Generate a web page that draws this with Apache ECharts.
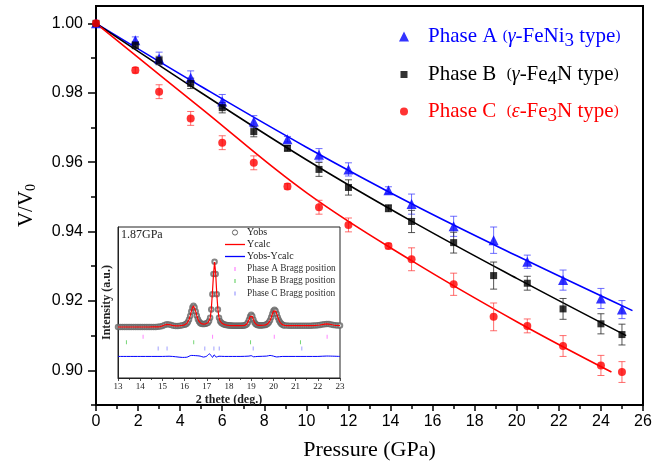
<!DOCTYPE html>
<html>
<head>
<meta charset="utf-8">
<script src="https://cdn.jsdelivr.net/npm/echarts@6/dist/echarts.min.js"></script>
<style>html,body{margin:0;padding:0;background:#fff}#c{width:665px;height:466px}</style>
</head>
<body>
<div id="c"></div>
<script>
// ---------- main chart data ----------
const pressure = [0, 1.87, 3.0, 4.5, 6.0, 7.5, 9.1, 10.6, 12.0, 13.9, 15.0, 17.0, 18.9, 20.5, 22.2, 24.0, 25.0];
const phaseA = [1.0, 0.9951, 0.9899, 0.9843, 0.9775, 0.9717, 0.9666, 0.9621, 0.9579, 0.9519, 0.9479, 0.9415, 0.9375, 0.9313, 0.9260, 0.9207, 0.9175];
const errA   = [0, 0.0010, 0.0018, 0.0020, 0.0020, 0.0017, 0.0008, 0.0018, 0.0019, 0.0010, 0.0029, 0.0029, 0.0038, 0.0019, 0.0029, 0.0029, 0.0026];
const phaseB = [1.0, 0.9937, 0.9893, 0.9827, 0.9757, 0.9688, 0.9640, 0.9579, 0.9527, 0.9467, 0.9429, 0.9368, 0.9273, 0.9251, 0.9177, 0.9134, 0.9103];
const errB   = [0, 0.0010, 0.0012, 0.0015, 0.0015, 0.0015, 0.0008, 0.0020, 0.0022, 0.0010, 0.0032, 0.0030, 0.0039, 0.0020, 0.0030, 0.0029, 0.0030];
const phaseC = [1.0, 0.9865, 0.9803, 0.9726, 0.9656, 0.9598, 0.9530, 0.9470, 0.9419, 0.9358, 0.9320, 0.9248, 0.9154, 0.9128, 0.9070, 0.9014, 0.8995];
const errC   = [0, 0.0008, 0.0020, 0.0020, 0.0020, 0.0020, 0.0008, 0.0020, 0.0020, 0.0008, 0.0033, 0.0032, 0.0040, 0.0020, 0.0030, 0.0029, 0.0030];

// fitted EOS curves
const fitPA = [0, 5, 10, 15, 20, 25.5];
const fitA  = [1.0, 0.9818, 0.9643, 0.9480, 0.9330, 0.9172];
const fitPB = [0, 5, 10, 15, 20, 25.2];
const fitB  = [1.0, 0.9800, 0.9607, 0.9430, 0.9265, 0.9100];
const fitPC = [0, 5, 10, 15, 20, 24.5];
const fitC  = [1.0, 0.9755, 0.9512, 0.9316, 0.9140, 0.8995];

const yMajorTicks = [0.90, 0.92, 0.94, 0.96, 0.98, 1.00];
const yMinorTicks = [0.89, 0.91, 0.93, 0.95, 0.97, 0.99];

// ---------- inset data (1.87 GPa pattern) ----------
const twoTheta = [13.0,13.1,13.2,13.3,13.4,13.5,13.6,13.7,13.8,13.9,14.0,14.1,14.2,14.3,14.4,14.5,14.6,14.7,14.8,14.9,15.0,15.1,15.2,15.3,15.4,15.5,15.6,15.7,15.8,15.9,
16.00,16.05,16.10,16.15,16.20,16.25,16.30,16.35,16.40,16.45,16.50,16.55,16.60,16.65,16.70,16.75,16.80,16.85,16.90,16.95,
17.00,17.05,17.10,17.15,17.20,17.25,17.30,17.35,17.40,17.45,17.50,17.55,17.60,17.65,17.70,17.75,17.80,17.85,17.90,17.95,
18.00,18.05,18.10,18.15,18.20,18.25,18.30,18.35,18.40,18.45,18.50,18.55,18.60,18.65,18.70,18.75,18.80,18.85,18.90,18.95,
19.00,19.05,19.10,19.15,19.20,19.25,19.30,19.35,19.40,19.45,19.50,19.55,19.60,19.65,19.70,19.75,19.80,19.85,19.90,19.95,
20.00,20.05,20.10,20.15,20.20,20.25,20.30,20.35,20.40,20.45,20.50,
20.6,20.7,20.8,20.9,21.0,21.1,21.2,21.3,21.4,21.5,21.6,21.7,21.8,21.9,22.0,22.1,22.2,22.3,22.4,22.5,22.6,22.7,22.8,22.9,23.0];
const yObs = [0,0,0.1,0,0,0.1,0,0,0.1,0,0,0.1,0,0,0.1,0.1,0.1,0.2,0.3,0.7,1.7,3.2,4.3,3.8,2.9,2.0,1.6,1.7,2.1,2.6,
3.3,4.1,5.4,7.8,11.5,16.9,23.7,29.8,32.5,29.9,23.9,17.3,12.0,8.4,6.3,5.1,4.6,4.5,4.6,4.9,
5.6,6.7,9.1,14.3,26.9,50.1,81.0,100,81.2,50.2,26.8,14.2,8.9,6.4,5.3,4.2,3.7,3.2,2.9,2.6,
2.5,2.3,2.2,2.1,2.0,2.0,1.9,2.0,1.9,2.0,2.0,2.1,2.1,2.2,2.5,3.1,4.4,6.9,11.1,16.2,
18.9,16.3,11.2,7.0,4.6,3.3,2.8,2.6,2.4,2.5,2.6,2.7,3.0,3.2,4.1,5.3,7.4,10.5,14.8,19.9,
24.4,26.4,24.4,19.8,14.6,10.3,7.2,5.0,3.7,2.8,2.5,
2.2,2.1,2.1,2.1,2.1,2.0,2.0,2.0,2.0,2.0,2.0,2.1,2.2,2.4,2.7,3.1,3.7,4.4,4.8,4.5,3.8,3.1,2.6,2.3,2.2];
const yCalc = [0,0,0,0,0,0,0,0,0,0,0,0,0,0,0,0.1,0.1,0.2,0.3,0.7,1.7,3.1,4.1,3.8,2.9,2.0,1.6,1.7,2.1,2.6,
3.3,4.1,5.4,7.8,11.5,16.9,23.5,29.2,32.3,29.3,23.9,17.3,12.0,8.4,6.3,5.1,4.6,4.5,4.6,4.9,
5.6,6.6,8.6,13.0,26.4,51.0,79.5,99.5,82.0,50.0,26.8,14.2,8.9,6.4,5.3,4.2,3.7,3.2,2.9,2.6,
2.5,2.3,2.2,2.1,2.0,2.0,2.0,2.0,2.0,2.0,2.0,2.1,2.1,2.2,2.5,3.1,4.4,6.9,11.1,16.0,
18.4,16.3,11.3,7.0,4.6,3.3,2.8,2.6,2.4,2.5,2.6,2.7,3.0,3.2,4.1,5.2,7.2,9.9,14.2,19.6,
24.2,26.3,24.4,20.2,14.8,10.3,7.2,5.0,3.7,2.8,2.5,
2.2,2.1,2.1,2.1,2.1,2.0,2.0,2.0,2.0,2.0,2.0,2.1,2.2,2.4,2.7,3.1,3.7,4.3,4.7,4.5,3.8,3.1,2.6,2.3,2.2];
const diffTheta = [13.0,14.0,15.0,15.3,15.6,15.9,16.1,16.3,16.5,16.7,16.85,17.0,17.12,17.2,17.26,17.33,17.42,17.55,17.8,18.5,18.9,19.0,19.1,19.3,19.7,19.85,20.0,20.15,20.4,21.0,22.0,22.4,23.0];
const diffVal   = [0,0,0,0.3,-0.5,-1.5,-1.2,1.5,1.2,0.5,-1.0,0.5,4.0,1.0,-1.5,2.5,-1.0,0.3,0,0,0.5,1.2,-0.5,0,0.5,1.5,0.5,-0.8,0,0,0,0.6,0];
const braggA = [14.13, 17.26, 20.04, 22.42];
const braggB = [13.38, 16.41, 18.97, 21.22];
const braggC = [14.81, 15.21, 16.91, 17.32, 17.56, 19.09, 21.28];

// ---------- layout constants ----------
const DIFF_OFFSET = -45;
const TICK_Y = {A: -15, B: -23.5, C: -33};

const serif = 'Liberation Serif';
const sans = 'Liberation Sans';

function pairs(xs, ys) { return xs.map((x, i) => [x, ys[i]]); }
function errData(vals, errs) { return pressure.map((p, i) => [p, vals[i] - errs[i], vals[i] + errs[i]]); }
function errRender(color) {
  return function (params, api) {
    const x = api.value(0), lo = api.value(1), hi = api.value(2);
    if (hi - lo < 1e-9) return null;
    const a = api.coord([x, lo]), b = api.coord([x, hi]);
    const w = 3.5;
    const st = {stroke: color, lineWidth: 1};
    return {type: 'group', children: [
      {type: 'line', shape: {x1: a[0], y1: a[1], x2: b[0], y2: b[1]}, style: st},
      {type: 'line', shape: {x1: a[0] - w, y1: a[1], x2: a[0] + w, y2: a[1]}, style: st},
      {type: 'line', shape: {x1: b[0] - w, y1: b[1], x2: b[0] + w, y2: b[1]}, style: st}
    ]};
  };
}
function legendRich(color) {
  return {
    m: {fontSize: 21, fontFamily: serif, color: color},
    p: {fontSize: 15, fontFamily: serif, color: color},
    g: {fontSize: 20, fontFamily: serif, fontStyle: 'italic', color: color},
    s: {fontSize: 19, fontFamily: serif, color: color, padding: [10, 0, 0, 0]}
  };
}
function mkLegend(name, top, color, text, iw) {
  return {
    data: [name], left: 399 - iw / 2, top: top, orient: 'horizontal',
    itemWidth: iw, itemHeight: iw, selectedMode: false,
    formatter: () => text,
    textStyle: {color: color, padding: [0, 0, 0, 19 - iw / 2], rich: legendRich(color)}
  };
}

const chart = echarts.init(document.getElementById('c'), null, {renderer: 'canvas'});
const option = {
  backgroundColor: '#fff',
  animation: false,
  grid: [
    {left: 96, right: 22, top: 6, bottom: 60, show: true, borderColor: '#000', borderWidth: 2, backgroundColor: 'transparent'},
    {left: 118, right: 325, top: 227, bottom: 88, show: true, borderColor: '#222', borderWidth: 1, backgroundColor: '#fff'}
  ],
  legend: [
    mkLegend('Phase A', 21, '#0000ff', '{m|Phase A }{p|(}{g|γ}{m|-FeNi}{s|3}{m| type}{p|)}', 10),
    mkLegend('Phase B', 59, '#000000', '{m|Phase B  }{p|(}{g|γ}{m|-Fe}{s|4}{m|N type}{p|)}', 7),
    mkLegend('Phase C', 96, '#ff0000', '{m|Phase C  }{p|(}{g|ε}{m|-Fe}{s|3}{m|N type}{p|)}', 8)
  ],
  xAxis: [
    {
      gridIndex: 0, type: 'value', min: 0, max: 26, interval: 2,
      axisLine: {show: true, onZero: false, lineStyle: {color: '#000', width: 2}},
      axisTick: {show: true, length: 6, lineStyle: {color: '#000', width: 1.5}},
      minorTick: {show: true, splitNumber: 2, length: 4, lineStyle: {color: '#000', width: 1.5}},
      axisLabel: {fontSize: 16, fontFamily: sans, color: '#000', margin: 9},
      splitLine: {show: false},
      name: 'Pressure (GPa)', nameLocation: 'middle', nameGap: 34,
      nameTextStyle: {fontSize: 22, fontFamily: serif, color: '#000'}
    },
    {
      gridIndex: 1, type: 'value', min: 13, max: 23, interval: 1,
      axisLine: {show: true, onZero: false, lineStyle: {color: '#222', width: 1}},
      axisTick: {show: true, length: 3, lineStyle: {color: '#222', width: 0.8}},
      minorTick: {show: true, splitNumber: 2, length: 2, lineStyle: {color: '#222', width: 0.8}},
      axisLabel: {fontSize: 9, fontFamily: serif, color: '#222', margin: 4},
      splitLine: {show: false},
      name: '2 thete (deg.)', nameLocation: 'middle', nameGap: 16,
      nameTextStyle: {fontSize: 12, fontWeight: 'bold', fontFamily: serif, color: '#222'}
    }
  ],
  yAxis: [
    {
      gridIndex: 0, type: 'value', min: 0.89, max: 1.005, position: 'left',
      axisLine: {show: true, onZero: false, lineStyle: {color: '#000', width: 2}},
      axisTick: {show: true, length: 8, customValues: yMajorTicks, lineStyle: {color: '#000', width: 1.5}},
      axisLabel: {fontSize: 16, fontFamily: sans, color: '#000', margin: 13, customValues: yMajorTicks, formatter: v => v.toFixed(2)},
      splitLine: {show: false},
      name: '{a|V/V}{b|0}', nameLocation: 'middle', nameGap: 58, nameRotate: 90,
      nameTextStyle: {rich: {
        a: {fontSize: 21, fontFamily: serif, color: '#000'},
        b: {fontSize: 14, fontFamily: serif, color: '#000', padding: [9, 0, 0, 0]}
      }}
    },
    {
      gridIndex: 0, type: 'value', min: 0.89, max: 1.005, position: 'left',
      axisLine: {show: false},
      axisTick: {show: true, length: 5, customValues: yMinorTicks, lineStyle: {color: '#000', width: 1.5}},
      axisLabel: {show: false},
      splitLine: {show: false}
    },
    {
      gridIndex: 1, type: 'value', min: -78, max: 153,
      axisLine: {show: true, onZero: false, lineStyle: {color: '#222', width: 1}},
      axisTick: {show: false}, axisLabel: {show: false}, splitLine: {show: false},
      name: 'Intensity (a.u.)', nameLocation: 'middle', nameGap: 5, nameRotate: 90,
      nameTextStyle: {fontSize: 12, fontWeight: 'bold', fontFamily: serif, color: '#222'}
    }
  ],
  series: [
    {name: 'fitA', type: 'line', xAxisIndex: 0, yAxisIndex: 0, data: pairs(fitPA, fitA), smooth: 0.4, showSymbol: false, lineStyle: {color: '#0000ff', width: 1.6}, z: 2},
    {name: 'fitB', type: 'line', xAxisIndex: 0, yAxisIndex: 0, data: pairs(fitPB, fitB), smooth: 0.4, showSymbol: false, lineStyle: {color: '#000', width: 1.6}, z: 2},
    {name: 'fitC', type: 'line', xAxisIndex: 0, yAxisIndex: 0, data: pairs(fitPC, fitC), smooth: 0.4, showSymbol: false, lineStyle: {color: '#ff0000', width: 1.6}, z: 2},
    {name: 'errA', type: 'custom', xAxisIndex: 0, yAxisIndex: 0, data: errData(phaseA, errA), encode: {x: 0, y: [1, 2]}, renderItem: errRender('rgba(60,60,255,0.75)'), z: 3},
    {name: 'errB', type: 'custom', xAxisIndex: 0, yAxisIndex: 0, data: errData(phaseB, errB), encode: {x: 0, y: [1, 2]}, renderItem: errRender('rgba(40,40,40,0.8)'), z: 3},
    {name: 'errC', type: 'custom', xAxisIndex: 0, yAxisIndex: 0, data: errData(phaseC, errC), encode: {x: 0, y: [1, 2]}, renderItem: errRender('rgba(255,60,60,0.75)'), z: 3},
    {name: 'Phase A', type: 'scatter', xAxisIndex: 0, yAxisIndex: 0, data: pairs(pressure, phaseA), symbol: 'triangle', symbolSize: 10, itemStyle: {color: '#0000ff'}, z: 4},
    {name: 'Phase B', type: 'scatter', xAxisIndex: 0, yAxisIndex: 0, data: pairs(pressure, phaseB), symbol: 'rect', symbolSize: 7, itemStyle: {color: '#000'}, z: 4},
    {name: 'Phase C', type: 'scatter', xAxisIndex: 0, yAxisIndex: 0, data: pairs(pressure, phaseC), symbol: 'circle', symbolSize: 8, itemStyle: {color: '#ff0000'}, z: 4},

    {name: 'Yobs', type: 'scatter', xAxisIndex: 1, yAxisIndex: 2, data: pairs(twoTheta, yObs), symbol: 'emptyCircle', symbolSize: 4.5, itemStyle: {color: '#666', borderColor: '#666', borderWidth: 0.9}, z: 4},
    {name: 'Ycalc', type: 'line', xAxisIndex: 1, yAxisIndex: 2, data: pairs(twoTheta, yCalc), showSymbol: false, lineStyle: {color: '#ff0000', width: 1.2}, z: 5},
    {name: 'Yobs-Ycalc', type: 'line', xAxisIndex: 1, yAxisIndex: 2, data: diffTheta.map((t, i) => [t, DIFF_OFFSET + diffVal[i]]), smooth: 0.3, showSymbol: false, lineStyle: {color: '#0000ff', width: 1}, z: 5},
    {name: 'Phase A Bragg position', type: 'scatter', xAxisIndex: 1, yAxisIndex: 2, data: braggA.map(t => [t, TICK_Y.A]), symbol: 'rect', symbolSize: [1, 4], itemStyle: {color: '#ff66ff'}, z: 5},
    {name: 'Phase B Bragg position', type: 'scatter', xAxisIndex: 1, yAxisIndex: 2, data: braggB.map(t => [t, TICK_Y.B]), symbol: 'rect', symbolSize: [1, 4], itemStyle: {color: '#55cc55'}, z: 5},
    {name: 'Phase C Bragg position', type: 'scatter', xAxisIndex: 1, yAxisIndex: 2, data: braggC.map(t => [t, TICK_Y.C]), symbol: 'rect', symbolSize: [1, 4], itemStyle: {color: '#8888ff'}, z: 5}
  ],
  graphic: [
    {type: 'text', left: 121, top: 229, z: 10, style: {text: '1.87GPa', font: '12px "Liberation Serif"', fill: '#222'}},
    {type: 'group', z: 10, children: [
      {type: 'circle', shape: {cx: 235, cy: 232.5, r: 2.6}, style: {fill: 'none', stroke: '#555', lineWidth: 0.9}},
      {type: 'text', x: 247, y: 232.5, style: {text: 'Yobs', font: '10px "Liberation Serif"', fill: '#222', verticalAlign: 'middle'}},
      {type: 'line', shape: {x1: 225, y1: 244.5, x2: 245, y2: 244.5}, style: {stroke: '#ff0000', lineWidth: 1.3}},
      {type: 'text', x: 247, y: 244.5, style: {text: 'Ycalc', font: '10px "Liberation Serif"', fill: '#222', verticalAlign: 'middle'}},
      {type: 'line', shape: {x1: 225, y1: 256.5, x2: 245, y2: 256.5}, style: {stroke: '#0000ff', lineWidth: 1.3}},
      {type: 'text', x: 247, y: 256.5, style: {text: 'Yobs-Ycalc', font: '10px "Liberation Serif"', fill: '#222', verticalAlign: 'middle'}},
      {type: 'rect', shape: {x: 234.5, y: 267, width: 1, height: 4}, style: {fill: '#ff66ff'}},
      {type: 'text', x: 247, y: 269, style: {text: 'Phase A Bragg position', font: '9.4px "Liberation Serif"', fill: '#333', verticalAlign: 'middle'}},
      {type: 'rect', shape: {x: 234.5, y: 279, width: 1, height: 4}, style: {fill: '#55cc55'}},
      {type: 'text', x: 247, y: 281, style: {text: 'Phase B Bragg position', font: '9.4px "Liberation Serif"', fill: '#333', verticalAlign: 'middle'}},
      {type: 'rect', shape: {x: 234.5, y: 291.5, width: 1, height: 4}, style: {fill: '#8888ff'}},
      {type: 'text', x: 247, y: 293.5, style: {text: 'Phase C Bragg position', font: '9.4px "Liberation Serif"', fill: '#333', verticalAlign: 'middle'}}
    ]}
  ]
};
chart.setOption(option);
</script>
</body>
</html>
